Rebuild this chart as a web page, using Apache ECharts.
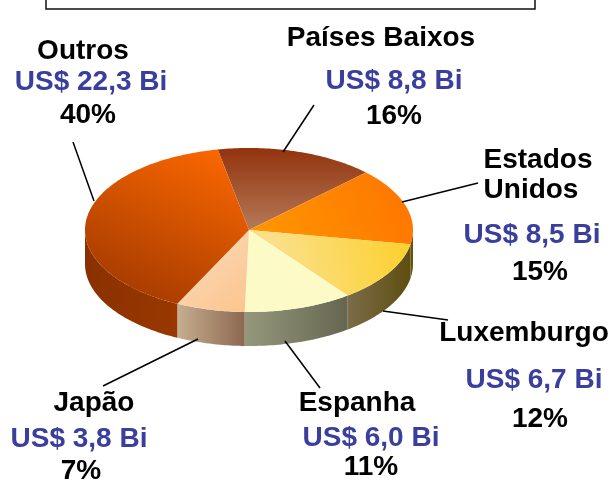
<!DOCTYPE html>
<html><head><meta charset="utf-8">
<style>html,body{margin:0;padding:0;background:#fff}#c{width:613px;height:480px;filter:blur(0.35px)}</style>
<script src="https://cdn.jsdelivr.net/npm/echarts@6/dist/echarts.min.js"></script>
</head><body><div id="c"></div>
<script>
const categories = ['Países Baixos','Estados Unidos','Luxemburgo','Espanha','Japão','Outros'];
const values = [8.8,8.5,6.7,6.0,3.8,22.3];
const valueLabels = ['US$ 8,8 Bi','US$ 8,5 Bi','US$ 6,7 Bi','US$ 6,0 Bi','US$ 3,8 Bi','US$ 22,3 Bi'];
const percentLabels = ['16%','15%','12%','11%','7%','40%'];

// Label layout per category
const nameLayout = [[['Países Baixos',381,38]],[['Estados',538,160],['Unidos',531,190]],[['Luxemburgo',524,333]],[['Espanha',357,403]],[['Japão',94,403]],[['Outros',83,51]]];
const valueLayout = [[394,81],[532,235],[534,380],[371,438],[79,439],[91,82]];
const percentLayout = [[394,116],[540,272],[540,419],[371,467],[81,471],[88,115]];
const leaders = [[[314,105],[283,152]],[[478,183],[402,202]],[[448,320],[383,311]],[[320,388],[285,341]],[[103,386],[198,339]],[[73,142],[94,201]]];

const CX=249, CY=230, RX=164, RY=82, DEPTH=34, START=-101;
const grad=(x,y,x2,y2,a,b)=>new echarts.graphic.LinearGradient(x,y,x2,y2,[{offset:0,color:a},{offset:1,color:b}]);
const topFills=[
  grad(0,0,0,1,'#92330e','#b57a58'),
  grad(0,1,1,0,'#ff9800','#ff7400'),
  grad(0.2,0.6,1,0.15,'#fbdf88','#fcd02c'),
  grad(0,0,0,1,'#fcfbc6','#fcfbc8'),
  grad(0,0,1,1,'#fbdcc0','#fcc48c'),
  grad(0.75,0,0.3,1,'#f86600','#a43a00')
];
const sideFills=[
  '#8a3000',
  '#675208',
  grad(0,0,1,0,'#7c6c48','#5e4e10'),
  grad(0,0,1,0,'#94987c','#666650'),
  grad(0,0,1,0,'#c6ae90','#8c6850'),
  grad(0,0,1,0,'#8a3000','#993800')
];
const total=values.reduce((a,b)=>a+b,0);
const pt=(deg,dy)=>{const r=deg*Math.PI/180;return [CX+RX*Math.cos(r),CY+RY*Math.sin(r)+(dy||0)];};
function arc(a,b,dy){const n=Math.max(2,Math.ceil(Math.abs(b-a)));const o=[];for(let i=0;i<=n;i++)o.push(pt(a+(b-a)*i/n,dy));return o;}

function renderItem(params,api){
  const i=params.dataIndex;
  let before=0;for(let k=0;k<i;k++)before+=values[k];
  const a=START+before/total*360, b=a+api.value(0)/total*360;
  const children=[];
  const sa=Math.max(a,0), sb=Math.min(b,180);
  if(sb>sa){
    children.push({type:'polygon',shape:{points:arc(sa,sb,0).concat(arc(sb,sa,DEPTH))},style:{fill:sideFills[i],stroke:null}});
  }
  children.push({type:'polygon',shape:{points:[[CX,CY]].concat(arc(a,b,0))},style:{fill:topFills[i],stroke:null}});
  return {type:'group',children};
}

const FONT='"Liberation Sans", Arial, sans-serif';
const txt=(t,x,y,fill)=>({type:'text',x,y,silent:true,z:10,style:{text:t,x:0,y:0,fill,font:'bold 28px '+FONT,align:'center',verticalAlign:'middle'}});
const elements=[
  {type:'polyline',z:5,shape:{points:[[46,-5],[46,9],[535,9],[535,-5]]},style:{stroke:'#111',lineWidth:1.5,fill:null}}
];
leaders.forEach(l=>elements.push({type:'line',z:5,shape:{x1:l[0][0],y1:l[0][1],x2:l[1][0],y2:l[1][1]},style:{stroke:'#000',lineWidth:1.5}}));
nameLayout.forEach(g=>g.forEach(n=>elements.push(txt(n[0],n[1],n[2],'#000'))));
valueLayout.forEach((p,i)=>elements.push(txt(valueLabels[i],p[0],p[1],'#3a3f9e')));
percentLayout.forEach((p,i)=>elements.push(txt(percentLabels[i],p[0],p[1],'#000')));

const chart=echarts.init(document.getElementById('c'),null,{renderer:'canvas'});
chart.setOption({
  animation:false,
  backgroundColor:'#fff',
  graphic:{elements},
  series:[{type:'custom',coordinateSystem:'none',renderItem,silent:true,
    data:values.map((v,i)=>({name:categories[i],value:[v]}))}]
});
</script></body></html>
